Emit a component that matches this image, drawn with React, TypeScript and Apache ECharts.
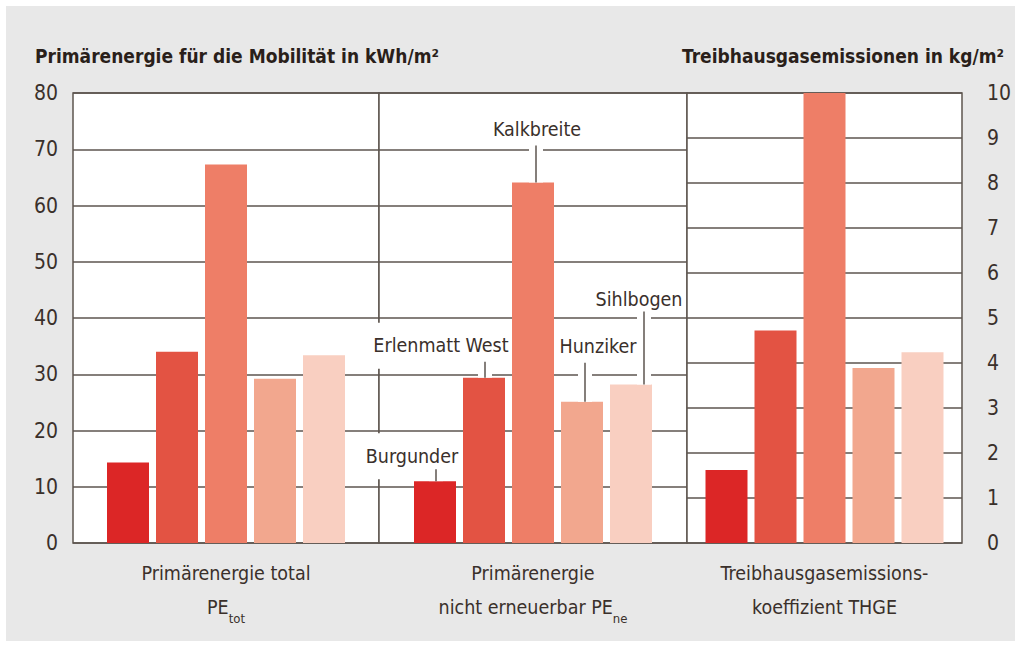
import React, { useEffect, useRef } from "react";
import * as echarts from "echarts";

// ---------- data ----------
const buildings = ["Burgunder", "Erlenmatt West", "Kalkbreite", "Hunziker", "Sihlbogen"];
const groupNames = [
  "Primärenergie total PEtot",
  "Primärenergie nicht erneuerbar PEne",
  "Treibhausgasemissionskoeffizient THGE",
];
// label lines: [line1, line2 main, line2 subscript]
const groupLabelLines = [
  ["Primärenergie total", "PE", "tot"],
  ["Primärenergie", "nicht erneuerbar PE", "ne"],
  ["Treibhausgasemissions-", "koeffizient THGE", ""],
];
const peTotal = [14.3, 34.0, 67.3, 29.2, 33.4]; // kWh/m²
const peNe = [11.0, 29.4, 64.1, 25.1, 28.2]; // kWh/m²
const thge = [1.62, 4.72, 10.0, 3.89, 4.24]; // kg/m²
const leftAxis = { min: 0, max: 80, interval: 10 };
const rightAxis = { min: 0, max: 10, interval: 1 };
const titleLeft = "Primärenergie für die Mobilität in kWh/m²";
const titleRight = "Treibhausgasemissionen in kg/m²";

// ---------- styles ----------
const colors = ["#dc2626", "#e35343", "#ee7e67", "#f2a78e", "#f9cfc1"];
const FONT = "'Liberation Sans Narrow', 'DejaVu Sans Condensed', sans-serif";
const LINE = "#5d554f";
const TXT = "#3a302b";
const BAR_W = 42;
const BAR_GAP = 7;
const LBL_SIZE = 19.5;

// annotation layout for middle group (offsets in px)
const ann = [
  { dx: 1, len: 12, tdx: -23, tdy: 13, box: true },
  { dx: 1, len: 16, tdx: -43, tdy: 16, box: true },
  { dx: 3, len: 37, tdx: 4, tdy: 16, box: false },
  { dx: 3, len: 39, tdx: 16, tdy: 16, box: false },
  { dx: 13, len: 73, tdx: 8, tdy: 12, box: false },
];

const OFF = 6; // chart div offset inside page
const grids = [
  { left: 73 - OFF, width: 306 },
  { left: 379 - OFF, width: 308 },
  { left: 687 - OFF, width: 275 },
];
const GRID_TOP = 93 - OFF;
const GRID_H = 450;

function leaderGeom(api: any) {
  const i = api.value(2);
  const v = api.value(1);
  const p = api.coord([api.value(0), v]);
  const cx = p[0] + (i - 2) * (BAR_W + BAR_GAP);
  const a = ann[i];
  const lx = cx + a.dx;
  const top = p[1] - a.len;
  return { i, p, cx, a, lx, top };
}

export default function App() {
  const ref = useRef<HTMLDivElement>(null);
  useEffect(() => {
    if (!ref.current) return;
    const chart = echarts.init(ref.current, null, { renderer: "svg" });
    const values = [peTotal, peNe, thge];

    const series: any[] = [];
    values.forEach((vals, g) => {
      buildings.forEach((b, i) => {
        series.push({
          type: "bar",
          name: b,
          xAxisIndex: g,
          yAxisIndex: g,
          data: [vals[i]],
          barWidth: BAR_W,
          barGap: (BAR_GAP / BAR_W) * 100 + "%",
          itemStyle: { color: colors[i] },
          z: 2,
        });
      });
    });

    const annData = peNe.map((v, i) => [0, v, i]);
    // white halos behind leader lines (break the grid lines)
    series.push({
      type: "custom",
      xAxisIndex: 1,
      yAxisIndex: 1,
      z: 4,
      data: annData,
      encode: { x: 0, y: 1 },
      renderItem: (params: any, api: any) => {
        const { p, lx, top } = leaderGeom(api);
        return {
          type: "line",
          shape: { x1: lx, y1: p[1], x2: lx, y2: top },
          style: { stroke: "#ffffff", lineWidth: 14 },
        };
      },
    });
    // labels + leader lines
    series.push({
      type: "custom",
      xAxisIndex: 1,
      yAxisIndex: 1,
      z: 5,
      data: annData,
      encode: { x: 0, y: 1 },
      renderItem: (params: any, api: any) => {
        const { i, p, cx, a, lx, top } = leaderGeom(api);
        return {
          type: "group",
          children: [
            {
              type: "text",
              style: {
                text: buildings[i],
                x: cx + a.tdx,
                y: top - a.tdy,
                align: "center",
                verticalAlign: "middle",
                fontSize: LBL_SIZE,
                fontFamily: FONT,
                fill: TXT,
                backgroundColor: a.box ? "#ffffff" : "transparent",
                padding: a.box ? [13, 3] : 0,
              },
            },
            {
              type: "line",
              shape: { x1: lx, y1: p[1], x2: lx, y2: top },
              style: { stroke: LINE, lineWidth: 1.5 },
            },
          ],
        };
      },
    });

    const xAxis = grids.map((_, g) => ({
      type: "category",
      gridIndex: g,
      data: [groupNames[g]],
      axisLine: { show: false },
      axisTick: { show: false },
      axisLabel: {
        margin: 13,
        formatter: () => {
          const [l1, l2, sub] = groupLabelLines[g];
          return `{a|${l1}}\n{a|${l2}}` + (sub ? `{sub|${sub}}` : "");
        },
        rich: {
          a: { fontSize: LBL_SIZE, lineHeight: 34, fontFamily: FONT, color: TXT },
          sub: { fontSize: 13, lineHeight: 34, padding: [22, 0, 0, 0], fontFamily: FONT, color: TXT },
        },
      },
    }));

    const split = { show: true, lineStyle: { color: LINE, width: 1.5 } };
    const yAxis = [
      {
        type: "value",
        gridIndex: 0,
        position: "left",
        ...leftAxis,
        axisLine: { show: false },
        axisTick: { show: false },
        splitLine: split,
        axisLabel: { margin: 15, fontSize: 21, fontFamily: FONT, color: TXT },
      },
      {
        type: "value",
        gridIndex: 1,
        ...leftAxis,
        axisLine: { show: false },
        axisTick: { show: false },
        splitLine: split,
        axisLabel: { show: false },
      },
      {
        type: "value",
        gridIndex: 2,
        position: "right",
        ...rightAxis,
        axisLine: { show: false },
        axisTick: { show: false },
        splitLine: split,
        axisLabel: { margin: 25, fontSize: 21, fontFamily: FONT, color: TXT },
      },
    ];

    const titleStyle = { fontSize: 19, fontWeight: "bold", fontFamily: FONT, color: "#2a1f1a" };
    chart.setOption({
      animation: false,
      backgroundColor: "#e8e8e8",
      title: [
        { text: titleLeft, left: 35 - OFF, top: 46 - OFF, padding: 0, textStyle: titleStyle },
        { text: titleRight, right: 1021 - 1004 - OFF, top: 46 - OFF, padding: 0, textStyle: titleStyle },
      ],
      grid: grids.map((gr) => ({
        left: gr.left,
        width: gr.width,
        top: GRID_TOP,
        height: GRID_H,
        show: true,
        backgroundColor: "#ffffff",
        borderColor: LINE,
        borderWidth: 1.5,
        containLabel: false,
      })),
      xAxis,
      yAxis,
      series,
    });
    return () => chart.dispose();
  }, []);

  return (
    <div style={{ position: "fixed", left: 0, top: 0, width: 1021, height: 647, background: "#ffffff" }}>
      <div
        ref={ref}
        style={{ position: "absolute", left: OFF, top: OFF, width: 1021 - 2 * OFF, height: 647 - 2 * OFF }}
      />
    </div>
  );
}
